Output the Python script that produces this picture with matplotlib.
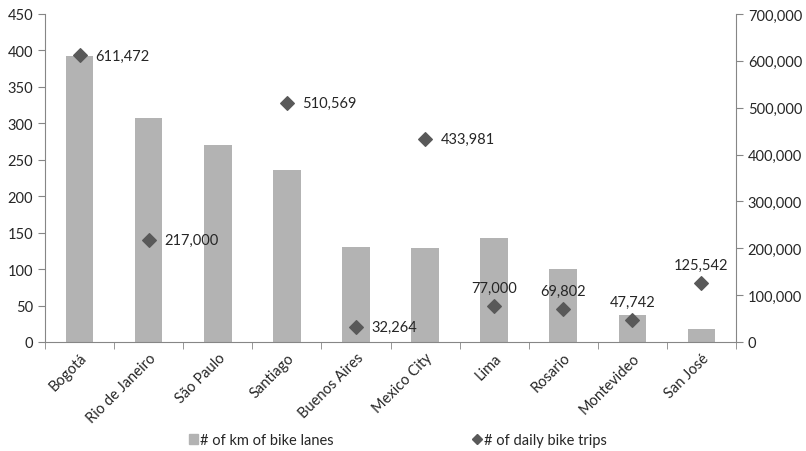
import numpy as np
import matplotlib.pyplot as plt
from matplotlib.ticker import FuncFormatter
from matplotlib.lines import Line2D
from matplotlib.patches import Patch

plt.rcParams['font.family'] = ['Lato', 'DejaVu Sans']

cities = ['Bogotá', 'Rio de Janeiro', 'São Paulo', 'Santiago', 'Buenos Aires',
          'Mexico City', 'Lima', 'Rosario', 'Montevideo', 'San José']
km_lanes = [392, 307, 270, 236, 130, 129, 142, 100, 37, 18]
daily_trips = [611472, 217000, 0, 510569, 32264, 433981, 77000, 69802, 47742, 125542]
has_trips = [True, True, False, True, True, True, True, True, True, True]
label_above = [False, False, False, False, False, False, True, True, True, True]

bar_col = '#b3b3b3'
pt_col = '#595959'
axis_col = '#868686'
txt_col = '#262626'
fs = 10.5

fig = plt.figure(figsize=(8.06, 4.52), dpi=100)
ax = fig.add_axes([45/806, 109/452, 691/806, 328/452])
ax2 = ax.twinx()

x = np.arange(len(cities))
ax.bar(x, km_lanes, width=0.4, color=bar_col, zorder=1)

xs = [xi for xi, h in zip(x, has_trips) if h]
ys = [v for v, h in zip(daily_trips, has_trips) if h]
ax2.scatter(xs, ys, marker='D', s=48, color=pt_col, zorder=3)

for xi, v, h, up in zip(x, daily_trips, has_trips, label_above):
    if not h:
        continue
    if up:
        ax2.annotate(f'{v:,}', (xi, v), xytext=(0, 8), textcoords='offset points',
                     ha='center', va='bottom', fontsize=fs, color=txt_col)
    else:
        ax2.annotate(f'{v:,}', (xi, v), xytext=(11, 0), textcoords='offset points',
                     ha='left', va='center', fontsize=fs, color=txt_col)

ax.set_xlim(-0.5, len(cities) - 0.5)
ax.set_ylim(0, 450)
ax.set_yticks(np.arange(0, 451, 50))
ax2.set_ylim(0, 700000)
ax2.set_yticks(np.arange(0, 700001, 100000))
ax2.yaxis.set_major_formatter(FuncFormatter(lambda v, p: f'{int(v):,}'))

ax.set_xticks(x)
ax.set_xticklabels(cities, rotation=45, ha='right', rotation_mode='anchor', fontsize=fs, color=txt_col)
ax.set_xticks(np.arange(-0.5, len(cities)), minor=True)
ax.tick_params(axis='x', which='major', length=0, pad=6)
ax.tick_params(axis='x', which='minor', length=5, color=axis_col, direction='out')
ax.tick_params(axis='y', length=5, color=axis_col, labelsize=fs, labelcolor=txt_col)
ax2.tick_params(axis='y', length=5, color=axis_col, labelsize=fs, labelcolor=txt_col)

for s in ['top', 'right']:
    ax.spines[s].set_visible(False)
for s in ['top', 'left', 'bottom']:
    ax2.spines[s].set_visible(False)
ax.spines['left'].set_color(axis_col)
ax.spines['bottom'].set_color(axis_col)
ax2.spines['right'].set_color(axis_col)

handles = [Patch(color=bar_col),
           Line2D([], [], marker='D', color=pt_col, linestyle='none', markersize=5)]
fig.legend(handles, ['# of km of bike lanes', '# of daily bike trips'],
           loc='center', bbox_to_anchor=(398/806, 1 - 441/452), ncol=2, frameon=False,
           fontsize=fs, columnspacing=9.5, handlelength=0.6, handletextpad=0.2,
           labelcolor=txt_col)

fig.savefig('out.png', dpi=100)
